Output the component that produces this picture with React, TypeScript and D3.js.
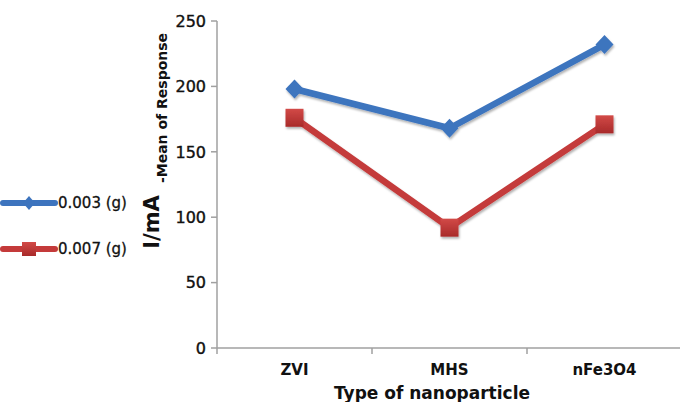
import React from "react";
import * as d3 from "d3";

const categories = ["ZVI", "MHS", "nFe3O4"];
const series1Name = "0.003 (g)";
const series1Values = [198, 168, 232];
const series2Name = "0.007 (g)";
const series2Values = [176, 92, 171];
const yTicks = [0, 50, 100, 150, 200, 250];

const W = 680;
const H = 402;
const left = 217;
const right = 682;
const top = 21;
const bottom = 348;

const BLUE = "#3D74BE";
const RED = "#C43A3A";
const AXIS = "#A0A0A0";
const FONT = "'DejaVu Sans', Verdana, sans-serif";

export default function App() {
  const x = d3.scaleBand<string>().domain(categories).range([left, right]).padding(0);
  const y = d3.scaleLinear().domain([0, 250]).range([bottom, top]);
  const cx = (c: string) => (x(c) as number) + x.bandwidth() / 2;
  const line = d3
    .line<number>()
    .x((_, i) => cx(categories[i]))
    .y((v) => y(v));
  const xTickPos = [...categories.map((c) => x(c) as number), right];

  return (
    <svg
      width={W}
      height={H}
      style={{ position: "absolute", left: 0, top: 0, background: "#fff" }}
      fontFamily={FONT}
    >
      <defs>
        <linearGradient id="redGrad" x1="0" y1="0" x2="0" y2="1">
          <stop offset="0" stopColor="#D24A47" />
          <stop offset="1" stopColor="#A82A2A" />
        </linearGradient>
        <filter id="shadow" x="-30%" y="-30%" width="160%" height="160%">
          <feDropShadow dx="1" dy="2" stdDeviation="1.2" floodColor="#000" floodOpacity="0.3" />
        </filter>
      </defs>
      {/* axes */}
      <line x1={left} x2={left} y1={top} y2={bottom} stroke={AXIS} strokeWidth={1.5} />
      <line x1={left} x2={right} y1={bottom} y2={bottom} stroke={AXIS} strokeWidth={1.5} />
      {yTicks.map((t) => (
        <g key={t}>
          <line x1={left - 6} x2={left} y1={y(t)} y2={y(t)} stroke={AXIS} strokeWidth={1.5} />
          <text
            x={left - 11}
            y={y(t)}
            dy="0.36em"
            textAnchor="end"
            fontSize={16}
            fill="#111"
            stroke="#111"
            strokeWidth={0.4}
          >
            {t}
          </text>
        </g>
      ))}
      {xTickPos.map((p, i) => (
        <line key={i} x1={p} x2={p} y1={bottom} y2={bottom + 6} stroke={AXIS} strokeWidth={1.5} />
      ))}
      {categories.map((c) => (
        <text
          key={c}
          x={cx(c)}
          y={370}
          dy="0.36em"
          textAnchor="middle"
          fontSize={15}
          fontWeight="bold"
          fill="#111"
        >
          {c}
        </text>
      ))}
      <text x={432} y={393} dy="0.36em" textAnchor="middle" fontSize={17} fontWeight="bold" fill="#111">
        Type of nanoparticle
      </text>
      {/* y axis title */}
      <text
        transform="translate(159,222) rotate(-90)"
        textAnchor="middle"
        fontSize={21}
        fontWeight="bold"
        fill="#111"
      >
        I/mA
      </text>
      <text
        transform="translate(167,108) rotate(-90)"
        textAnchor="middle"
        fontSize={14}
        fontWeight="bold"
        fill="#111"
      >
        -Mean of Response
      </text>
      {/* lines */}
      <g filter="url(#shadow)">
        <path d={line(series2Values) || ""} fill="none" stroke={RED} strokeWidth={6.5} strokeLinejoin="round" />
        {series2Values.map((v, i) => (
          <rect
            key={i}
            x={cx(categories[i]) - 9}
            y={y(v) - 9}
            width={18}
            height={18}
            fill="url(#redGrad)"
          />
        ))}
        <path d={line(series1Values) || ""} fill="none" stroke={BLUE} strokeWidth={6.5} strokeLinejoin="round" />
        {series1Values.map((v, i) => {
          const px = cx(categories[i]);
          const py = y(v);
          return (
            <path
              key={i}
              d={`M${px},${py - 9.5}L${px + 9},${py}L${px},${py + 9.5}L${px - 9},${py}Z`}
              fill={BLUE}
            />
          );
        })}
      </g>
      {/* legend */}
      <g>
        <line x1={3} x2={55} y1={203} y2={203} stroke={BLUE} strokeWidth={6} strokeLinecap="round" />
        <path d="M29,196L35,203L29,210L23,203Z" fill={BLUE} />
        <text x={58} y={203} dy="0.36em" fontSize={15} fill="#111" stroke="#111" strokeWidth={0.3}>
          {series1Name}
        </text>
        <line x1={3} x2={55} y1={249} y2={249} stroke={RED} strokeWidth={6} strokeLinecap="round" />
        <rect x={22} y={242} width={14} height={14} fill="url(#redGrad)" />
        <text x={58} y={249} dy="0.36em" fontSize={15} fill="#111" stroke="#111" strokeWidth={0.3}>
          {series2Name}
        </text>
      </g>
    </svg>
  );
}
